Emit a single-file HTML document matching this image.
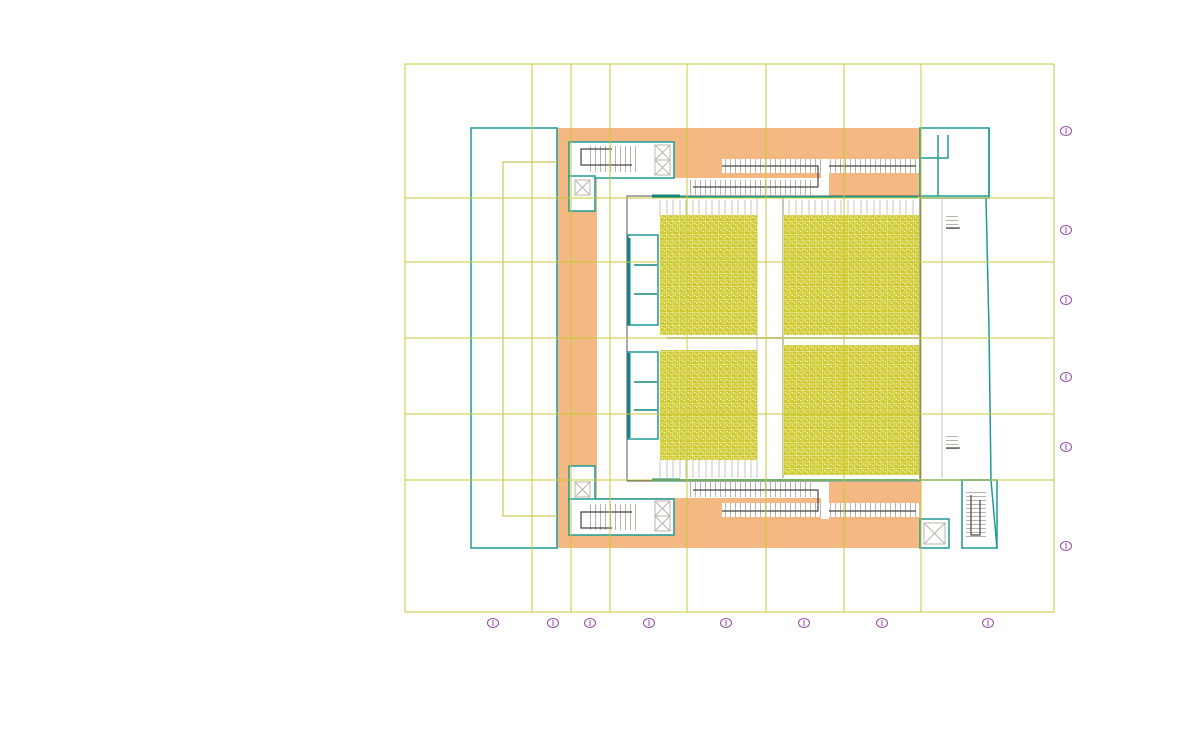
<!DOCTYPE html>
<html><head><meta charset="utf-8"><style>
html,body{margin:0;padding:0;background:#fff;width:1200px;height:736px;overflow:hidden}
svg{display:block}
text{font-family:"Liberation Sans",sans-serif;font-size:8px;fill:#9040a0}
</style></head><body>
<svg width="1200" height="736" viewBox="0 0 1200 736" xmlns="http://www.w3.org/2000/svg">
<defs>
<pattern id="seat" x="660" y="215" width="6.5" height="6.5" patternUnits="userSpaceOnUse">
<rect width="6.5" height="6.5" fill="#f4f2d0"/>
<rect x="0.2" y="0.2" width="6" height="6" fill="#cfca2c"/>
<rect x="1.6" y="1.6" width="1.2" height="1.2" fill="#fff"/>
<rect x="3.8" y="2.8" width="1" height="1.4" fill="#fff"/>
</pattern>
<pattern id="stair" width="5" height="10" patternUnits="userSpaceOnUse">
<rect width="5" height="10" fill="#fff"/><line x1="0.5" y1="0" x2="0.5" y2="10" stroke="#b8b4a8" stroke-width="1"/>
</pattern>
<pattern id="stairh" width="10" height="4" patternUnits="userSpaceOnUse">
<rect width="10" height="4" fill="#fff"/><line x1="0" y1="0.5" x2="10" y2="0.5" stroke="#b8b4a8" stroke-width="1"/>
</pattern>
</defs>

<rect x="557" y="128" width="364" height="420" fill="#f4b882"/>
<rect x="597" y="196" width="324" height="286" fill="#fff"/>
<rect x="597" y="178" width="225" height="20" fill="#fff"/>
<rect x="597" y="478" width="225" height="20" fill="#fff"/>

<rect x="722" y="159" width="99" height="14" fill="url(#stair)"/>
<rect x="829" y="159" width="90" height="14" fill="url(#stair)"/>
<rect x="688" y="180" width="124" height="15" fill="url(#stair)"/>
<rect x="821" y="159" width="8" height="37" fill="#fff"/>
<polyline points="722,166 818,166 818,187 693,187" fill="none" stroke="#444" stroke-width="1.2"/>
<polyline points="829,166 916,166" fill="none" stroke="#444" stroke-width="1.2"/>
<rect x="722" y="503" width="99" height="14" fill="url(#stair)"/>
<rect x="829" y="503" width="90" height="14" fill="url(#stair)"/>
<rect x="688" y="482" width="124" height="15" fill="url(#stair)"/>
<rect x="821" y="482" width="8" height="37" fill="#fff"/>
<polyline points="722,511 818,511 818,490 693,490" fill="none" stroke="#444" stroke-width="1.2"/>
<polyline points="829,511 916,511" fill="none" stroke="#444" stroke-width="1.2"/>

<g fill="none" stroke="#1e9a96" stroke-width="1.5">
<rect x="569" y="142" width="105" height="36" fill="#fff"/>
<rect x="569" y="176" width="26" height="35" fill="#fff"/>
<rect x="569" y="466" width="26" height="35" fill="#fff"/>
<rect x="569" y="499" width="105" height="36" fill="#fff"/>
<rect x="920" y="128" width="69" height="68" fill="#fff"/>
<rect x="962" y="480" width="35" height="68" fill="#fff"/>
<rect x="920" y="519" width="29" height="29" fill="#fff"/>
<rect x="471" y="128" width="86" height="420"/>
<polyline points="557,162 503,162 503,516 557,516" stroke="#bcbc30" stroke-width="1"/>
</g>
<rect x="586" y="146" width="50" height="26" fill="url(#stair)"/>
<rect x="586" y="504" width="50" height="26" fill="url(#stair)"/>
<polyline points="612,149 581,149 581,165 632,165" fill="none" stroke="#444" stroke-width="1.2"/>
<polyline points="612,528 581,528 581,512 632,512" fill="none" stroke="#444" stroke-width="1.2"/>
<rect x="966" y="492" width="20" height="45" fill="url(#stairh)"/>
<polyline points="971,495 971,535 980,535 980,500" fill="none" stroke="#444" stroke-width="1.2"/>
<g stroke="#b8b4a8" fill="none" stroke-width="1">
<rect x="655" y="145" width="15" height="15"/><path d="M655,145L670,160M670,145L655,160"/>
<rect x="655" y="160" width="15" height="15"/><path d="M655,160L670,175M670,160L655,175"/>
<rect x="575" y="180" width="15" height="15"/><path d="M575,180L590,195M590,180L575,195"/>
<rect x="575" y="482" width="15" height="15"/><path d="M575,482L590,497M590,482L575,497"/>
<rect x="655" y="501" width="15" height="15"/><path d="M655,501L670,516M670,501L655,516"/>
<rect x="655" y="516" width="15" height="15"/><path d="M655,516L670,531M670,516L655,531"/>
<rect x="924" y="523" width="21" height="21"/><path d="M924,523L945,544M945,523L924,544"/>
</g>

<polyline points="920,198 989,198 989,128" fill="none" stroke="#1e9a96" stroke-width="1.5"/>
<polyline points="986,198 989,330 991,480 997,548" fill="none" stroke="#1e9a96" stroke-width="1.5"/>
<line x1="938" y1="135" x2="938" y2="196" stroke="#1e9a96" stroke-width="1.5"/>
<polyline points="920,158 948,158 948,135" fill="none" stroke="#1e9a96" stroke-width="1.5"/>
<line x1="920" y1="480" x2="990" y2="480" stroke="#1e9a96" stroke-width="1.5"/>
<rect x="946" y="214" width="12" height="17" fill="url(#stairh)"/>
<rect x="946" y="434" width="12" height="17" fill="url(#stairh)"/>
<path d="M946,228h14M946,448h14" stroke="#444" stroke-width="1.2"/>

<rect x="627" y="196" width="293" height="285" fill="#fff" stroke="#555" stroke-width="1"/>
<line x1="652" y1="197" x2="918" y2="197" stroke="#1e9a96" stroke-width="2"/>
<line x1="652" y1="480" x2="918" y2="480" stroke="#1e9a96" stroke-width="2"/>
<line x1="652" y1="196" x2="680" y2="196" stroke="#138580" stroke-width="3"/>
<line x1="652" y1="480" x2="680" y2="480" stroke="#138580" stroke-width="3"/>
<g stroke="#c8c4b8" stroke-width="1">
<path d="M660,200V215M667,200V215M673,200V215M680,200V215M686,200V215M693,200V215M699,200V215M706,200V215M712,200V215M719,200V215M725,200V215M732,200V215M738,200V215M745,200V215M751,200V215M757,200V215"/>
<path d="M789,200V215M796,200V215M802,200V215M809,200V215M815,200V215M822,200V215M828,200V215M835,200V215M841,200V215M848,200V215M854,200V215M861,200V215M867,200V215M874,200V215M880,200V215M887,200V215M893,200V215M900,200V215M906,200V215M913,200V215"/>
<path d="M660,460V478M667,460V478M673,460V478M680,460V478M686,460V478M693,460V478M699,460V478M706,460V478M712,460V478M719,460V478M725,460V478M732,460V478M738,460V478M745,460V478M751,460V478M757,460V478"/>
<line x1="667" y1="338" x2="920" y2="338" stroke-width="2"/>
<line x1="783" y1="198" x2="783" y2="478" stroke-width="2"/>
<line x1="757" y1="198" x2="757" y2="478" stroke-width="1"/>
<line x1="942" y1="198" x2="942" y2="478"/>
</g>
<rect x="660" y="215" width="97" height="120" fill="url(#seat)"/>
<rect x="660" y="350" width="97" height="110" fill="url(#seat)"/>
<rect x="783" y="215" width="136" height="120" fill="url(#seat)"/>
<rect x="783" y="345" width="136" height="130" fill="url(#seat)"/>
<g fill="#fff" stroke="#1e9a96" stroke-width="1.5">
<rect x="628" y="235" width="30" height="90"/>
<rect x="628" y="352" width="30" height="87"/>
</g>
<g stroke="#138580" stroke-width="3">
<line x1="629" y1="238" x2="629" y2="325"/><line x1="629" y1="353" x2="629" y2="438"/>
<line x1="634" y1="265" x2="657" y2="265" stroke-width="1.5"/><line x1="634" y1="294" x2="657" y2="294" stroke-width="1.5"/>
<line x1="634" y1="382" x2="657" y2="382" stroke-width="1.5"/><line x1="634" y1="410" x2="657" y2="410" stroke-width="1.5"/>
</g>

<g stroke="#c8c838" stroke-width="1" fill="none">
<rect x="405" y="64" width="649" height="548"/>
<path d="M532,64V612M571,64V612M610,64V612M687,64V612M766,64V612M844,64V612M921,64V612"/>
<path d="M405,198H1054M405,262H1054M405,338H1054M405,414H1054M405,480H1054"/>
</g>

<g fill="none" stroke="#9848a8" stroke-width="1">
<ellipse cx="1066" cy="131" rx="5.5" ry="4.5"/><ellipse cx="1066" cy="230" rx="5.5" ry="4.5"/>
<ellipse cx="1066" cy="300" rx="5.5" ry="4.5"/><ellipse cx="1066" cy="377" rx="5.5" ry="4.5"/>
<ellipse cx="1066" cy="447" rx="5.5" ry="4.5"/><ellipse cx="1066" cy="546" rx="5.5" ry="4.5"/>
<ellipse cx="493" cy="623" rx="5.5" ry="4.5"/><ellipse cx="553" cy="623" rx="5.5" ry="4.5"/>
<ellipse cx="590" cy="623" rx="5.5" ry="4.5"/><ellipse cx="649" cy="623" rx="5.5" ry="4.5"/>
<ellipse cx="726" cy="623" rx="5.5" ry="4.5"/><ellipse cx="804" cy="623" rx="5.5" ry="4.5"/>
<ellipse cx="882" cy="623" rx="5.5" ry="4.5"/><ellipse cx="988" cy="623" rx="5.5" ry="4.5"/>
<path d="M1066,128v6M1066,227v6M1066,297v6M1066,374v6M1066,444v6M1066,543v6M493,620v6M553,620v6M590,620v6M649,620v6M726,620v6M804,620v6M882,620v6M988,620v6"/>
</g>
</svg>
</body></html>
